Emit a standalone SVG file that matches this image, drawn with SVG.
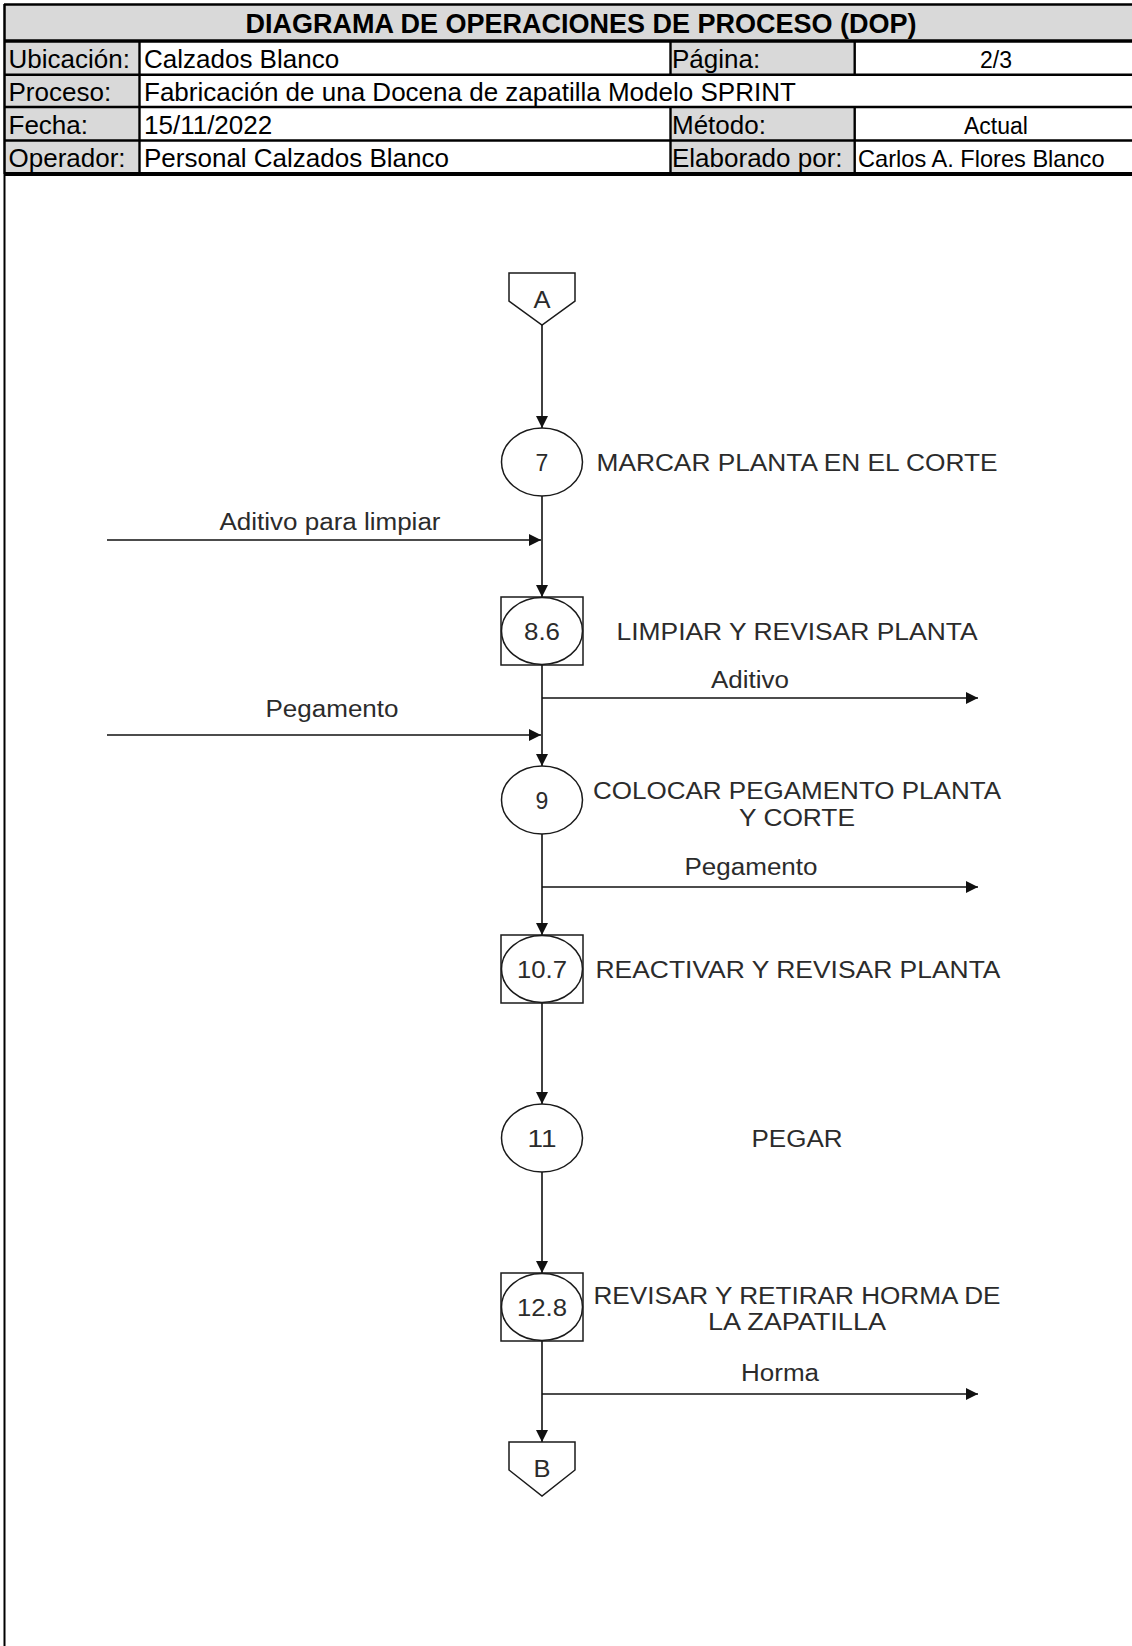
<svg xmlns="http://www.w3.org/2000/svg" width="1132" height="1646" viewBox="0 0 1132 1646">
  <defs>
    <style>
      .hdr { font-family: "Liberation Sans", Arial, sans-serif; fill: #000; }
      .title { font-size: 27px; font-weight: bold; }
      .lbl { font-size: 26px; }
      .val { font-size: 23px; }
      .valw { font-size: 23.6px; }
      .cellg { fill: #d9d9d9; }
      .grid { stroke: #000; fill: none; }
      .fl { font-family: "Liberation Sans", Arial, sans-serif; font-size: 23px; fill: #2b2b2b; }
      .mid { text-anchor: middle; }
      .shape { fill: #fff; stroke: #1a1a1a; stroke-width: 1.5; }
      .conn { fill: none; stroke: #111; stroke-width: 1.6; }
    </style>
    <marker id="arrow" markerUnits="userSpaceOnUse" markerWidth="13" markerHeight="13" refX="12" refY="6" orient="auto">
      <path d="M0,0 L12,6 L0,12 Z" fill="#111"/>
    </marker>
  </defs>

  <rect x="0" y="0" width="1132" height="1646" fill="#fff"/>

  <!-- Header table -->
  <g id="header">
    <rect class="cellg" x="4" y="4" width="1128" height="37"/>
    <rect class="cellg" x="4" y="41" width="135" height="133"/>
    <rect class="cellg" x="670" y="41" width="185" height="34"/>
    <rect class="cellg" x="670" y="107" width="185" height="67"/>

    <line class="grid" x1="4" y1="4.5" x2="1132" y2="4.5" stroke-width="2.5"/>
    <line class="grid" x1="4" y1="41" x2="1132" y2="41" stroke-width="3.5"/>
    <line class="grid" x1="4" y1="74.7" x2="1132" y2="74.7" stroke-width="2.5"/>
    <line class="grid" x1="4" y1="107" x2="1132" y2="107" stroke-width="2.5"/>
    <line class="grid" x1="4" y1="140.5" x2="1132" y2="140.5" stroke-width="2.5"/>
    <line class="grid" x1="4" y1="174" x2="1132" y2="174" stroke-width="4"/>
    <line class="grid" x1="139.5" y1="41" x2="139.5" y2="174" stroke-width="2.4"/>
    <line class="grid" x1="670.5" y1="41" x2="670.5" y2="74.7" stroke-width="2.4"/>
    <line class="grid" x1="670.5" y1="107" x2="670.5" y2="174" stroke-width="2.4"/>
    <line class="grid" x1="854.7" y1="41" x2="854.7" y2="74.7" stroke-width="2.4"/>
    <line class="grid" x1="854.7" y1="107" x2="854.7" y2="174" stroke-width="2.4"/>

    <text class="hdr title mid" x="581" y="33">DIAGRAMA DE OPERACIONES DE PROCESO (DOP)</text>

    <text class="hdr lbl" x="8.5" y="68">Ubicación:</text>
    <text class="hdr lbl" x="144" y="68">Calzados Blanco</text>
    <text class="hdr lbl" x="672" y="68">Página:</text>
    <text class="hdr val mid" x="996" y="68">2/3</text>

    <text class="hdr lbl" x="8.5" y="100.5">Proceso:</text>
    <text class="hdr lbl" x="144" y="100.5">Fabricación de una Docena de zapatilla Modelo SPRINT</text>

    <text class="hdr lbl" x="8.5" y="133.5">Fecha:</text>
    <text class="hdr lbl" x="144" y="133.5">15/11/2022</text>
    <text class="hdr lbl" x="672" y="133.5">Método:</text>
    <text class="hdr val mid" x="996" y="133.5">Actual</text>

    <text class="hdr lbl" x="8.5" y="166.5">Operador:</text>
    <text class="hdr lbl" x="144" y="166.5">Personal Calzados Blanco</text>
    <text class="hdr lbl" x="672" y="166.5">Elaborado por:</text>
    <text class="hdr valw" x="858" y="166.5">Carlos A. Flores Blanco</text>
  </g>

  <!-- Page frame, left edge -->
  <line x1="4.5" y1="174" x2="4.5" y2="1646" stroke="#000" stroke-width="2"/>
  <line x1="4.5" y1="4" x2="4.5" y2="174" stroke="#000" stroke-width="2.5"/>

  <!-- Connectors -->
  <g id="connectors">
    <!-- main flow -->
    <line class="conn" x1="542" y1="325" x2="542" y2="428" marker-end="url(#arrow)"/>
    <line class="conn" x1="542" y1="496" x2="542" y2="597" marker-end="url(#arrow)"/>
    <line class="conn" x1="542" y1="665" x2="542" y2="766" marker-end="url(#arrow)"/>
    <line class="conn" x1="542" y1="834" x2="542" y2="935" marker-end="url(#arrow)"/>
    <line class="conn" x1="542" y1="1003" x2="542" y2="1104" marker-end="url(#arrow)"/>
    <line class="conn" x1="542" y1="1172" x2="542" y2="1273" marker-end="url(#arrow)"/>
    <line class="conn" x1="542" y1="1341" x2="542" y2="1442" marker-end="url(#arrow)"/>
    <!-- material inputs -->
    <line class="conn" x1="107" y1="540" x2="541" y2="540" marker-end="url(#arrow)"/>
    <line class="conn" x1="107" y1="735" x2="541" y2="735" marker-end="url(#arrow)"/>
    <!-- material outputs -->
    <line class="conn" x1="542" y1="698" x2="978" y2="698" marker-end="url(#arrow)"/>
    <line class="conn" x1="542" y1="887" x2="978" y2="887" marker-end="url(#arrow)"/>
    <line class="conn" x1="542" y1="1394" x2="978" y2="1394" marker-end="url(#arrow)"/>

    <text class="fl mid" x="330" y="530" textLength="221" lengthAdjust="spacingAndGlyphs">Aditivo para limpiar</text>
    <text class="fl mid" x="332" y="717" textLength="133" lengthAdjust="spacingAndGlyphs">Pegamento</text>
    <text class="fl mid" x="750" y="688" textLength="78" lengthAdjust="spacingAndGlyphs">Aditivo</text>
    <text class="fl mid" x="751" y="875" textLength="133" lengthAdjust="spacingAndGlyphs">Pegamento</text>
    <text class="fl mid" x="780" y="1381" textLength="78" lengthAdjust="spacingAndGlyphs">Horma</text>
  </g>

  <!-- Off-page connector A -->
  <g id="conn-A">
    <path class="shape" d="M509,273 L575,273 L575,301 L542,325 L509,301 Z"/>
    <text class="fl mid" x="542" y="307.5" textLength="17" lengthAdjust="spacingAndGlyphs">A</text>
  </g>

  <!-- Operation 7 -->
  <g id="op-7">
    <ellipse class="shape" cx="542" cy="462" rx="40.5" ry="34"/>
    <text class="fl mid" x="542" y="470.5">7</text>
    <text class="fl mid" x="797" y="470.5" textLength="401" lengthAdjust="spacingAndGlyphs">MARCAR PLANTA EN EL CORTE</text>
  </g>

  <!-- Combined operation / inspection 8.6 -->
  <g id="comb-8-6">
    <rect class="shape" x="501" y="597" width="82" height="68"/>
    <ellipse class="shape" cx="542" cy="631" rx="40.5" ry="33.5"/>
    <text class="fl mid" x="542" y="639.5" textLength="36" lengthAdjust="spacingAndGlyphs">8.6</text>
    <text class="fl mid" x="797" y="640" textLength="361" lengthAdjust="spacingAndGlyphs">LIMPIAR Y REVISAR PLANTA</text>
  </g>

  <!-- Operation 9 -->
  <g id="op-9">
    <ellipse class="shape" cx="542" cy="800" rx="40.5" ry="34"/>
    <text class="fl mid" x="542" y="808.5">9</text>
    <text class="fl mid" x="797" y="799" textLength="408" lengthAdjust="spacingAndGlyphs">COLOCAR PEGAMENTO PLANTA</text>
    <text class="fl mid" x="797" y="826" textLength="116" lengthAdjust="spacingAndGlyphs">Y CORTE</text>
  </g>

  <!-- Combined operation / inspection 10.7 -->
  <g id="comb-10-7">
    <rect class="shape" x="501" y="935" width="82" height="68"/>
    <ellipse class="shape" cx="542" cy="969" rx="40.5" ry="33.5"/>
    <text class="fl mid" x="542" y="977.5" textLength="50" lengthAdjust="spacingAndGlyphs">10.7</text>
    <text class="fl mid" x="798" y="978" textLength="405" lengthAdjust="spacingAndGlyphs">REACTIVAR Y REVISAR PLANTA</text>
  </g>

  <!-- Operation 11 -->
  <g id="op-11">
    <ellipse class="shape" cx="542" cy="1138" rx="40.5" ry="34"/>
    <text class="fl mid" x="542" y="1146.5" textLength="29" lengthAdjust="spacingAndGlyphs">11</text>
    <text class="fl mid" x="797" y="1146.5" textLength="91" lengthAdjust="spacingAndGlyphs">PEGAR</text>
  </g>

  <!-- Combined operation / inspection 12.8 -->
  <g id="comb-12-8">
    <rect class="shape" x="501" y="1273" width="82" height="68"/>
    <ellipse class="shape" cx="542" cy="1307" rx="40.5" ry="33.5"/>
    <text class="fl mid" x="542" y="1315.5" textLength="50" lengthAdjust="spacingAndGlyphs">12.8</text>
    <text class="fl mid" x="797" y="1304" textLength="407" lengthAdjust="spacingAndGlyphs">REVISAR Y RETIRAR HORMA DE</text>
    <text class="fl mid" x="797" y="1330" textLength="178" lengthAdjust="spacingAndGlyphs">LA ZAPATILLA</text>
  </g>

  <!-- Off-page connector B -->
  <g id="conn-B">
    <path class="shape" d="M509,1442 L575,1442 L575,1470 L542,1496 L509,1470 Z"/>
    <text class="fl mid" x="542" y="1477" textLength="17" lengthAdjust="spacingAndGlyphs">B</text>
  </g>
</svg>
